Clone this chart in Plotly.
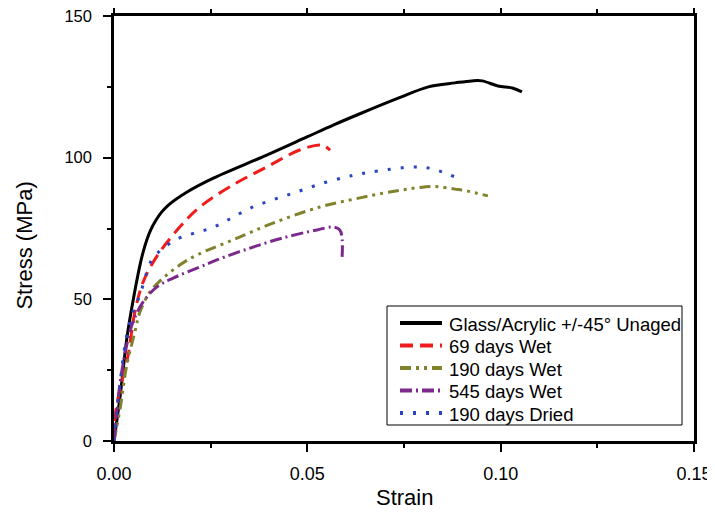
import plotly.graph_objects as go

# ---- data ----
unaged_x = [0, 0.0016, 0.0033, 0.0046, 0.0067, 0.0075, 0.0085, 0.0095, 0.0108, 0.0122, 0.0140, 0.0189, 0.0257, 0.0395, 0.0499, 0.0567, 0.0636, 0.0735, 0.0813, 0.0882, 0.0925, 0.0952, 0.0993, 0.103, 0.1055]
unaged_y = [0, 16, 36, 47, 62, 66.5, 71, 74.5, 77.8, 80.6, 83.2, 87.9, 92.8, 100.9, 107.3, 111.5, 115.5, 121, 125, 126.4, 127.1, 127.1, 125.3, 124.6, 123.2]

wet69_x = [0, 0.0003, 0.0016, 0.0036, 0.0054, 0.0075, 0.011, 0.017, 0.0222, 0.0308, 0.0395, 0.048, 0.0533, 0.0546, 0.0559]
wet69_y = [0, 9, 18.7, 30, 45.5, 56, 65, 75.5, 82.6, 90.4, 96.7, 102.7, 104.5, 104, 102.7]

wet190_x = [0, 0.0003, 0.0016, 0.0033, 0.0054, 0.0067, 0.0093, 0.0127, 0.017, 0.0215, 0.0308, 0.0411, 0.0533, 0.0636, 0.0700, 0.0745, 0.0786, 0.083, 0.0882, 0.0915, 0.0967]
wet190_y = [0, 2, 11.6, 26.8, 38.5, 45.5, 52.6, 57.5, 62.1, 65.7, 71, 76.9, 82.6, 85.8, 87.6, 88.6, 89.4, 89.8, 88.9, 88.2, 86.5]

wet545_x = [0, 0.0016, 0.0033, 0.0049, 0.0075, 0.0111, 0.0153, 0.0222, 0.0266, 0.0352, 0.0437, 0.0525, 0.0566, 0.0584, 0.059, 0.059]
wet545_y = [0, 20.8, 33.9, 42, 49, 54.4, 57.5, 61.4, 63.9, 68.1, 71.7, 74.5, 75.5, 74.5, 71, 65]

dried190_x = [0, 0.0016, 0.0033, 0.0049, 0.0067, 0.0085, 0.0101, 0.016, 0.0257, 0.036, 0.0464, 0.055, 0.0623, 0.0683, 0.077, 0.0812, 0.0848, 0.0882]
dried190_y = [0, 20.8, 37.4, 45.5, 51.5, 59.6, 64.6, 71, 75.5, 82.6, 87.5, 91.4, 93.9, 95.3, 96.7, 96.4, 95, 93.2]

names = ["Glass/Acrylic +/-45° Unaged", "69 days Wet", "190 days Wet", "545 days Wet", "190 days Dried"]

x_tickvals = [0, 0.05, 0.10, 0.15]
x_ticktext = ["0.00", "0.05", "0.10", "0.15"]
y_tickvals = [0, 50, 100, 150]

FONT = "Liberation Sans, Arial, sans-serif"

# figure geometry (the page body adds an 8px offset)
W, H = 707, 507
ML, MR, MT, MB = 106, 21, 8, 74
PW, PH = W - ML - MR, H - MT - MB


def px_x(px):  # screen px -> paper x
    return (px - 8 - ML) / PW


def px_y(py):  # screen px -> paper y
    return 1 - (py - 8 - MT) / PH


fig = go.Figure()
series = [
    (unaged_x, unaged_y, names[0], "black", "solid"),
    (wet69_x, wet69_y, names[1], "#f01c1c", "13px,7px"),
    (wet190_x, wet190_y, names[2], "#80822c", "11px,5px,3px,5px,3px,5px"),
    (wet545_x, wet545_y, names[3], "#7b2a8c", "12px,4px,2px,4px"),
    (dried190_x, dried190_y, names[4], "#2a44c4", "3px,10px"),
]
for x, y, n, c, d in series:
    fig.add_trace(go.Scatter(x=x, y=y, name=n, mode="lines", showlegend=False,
                             line=dict(color=c, width=3, dash=d, shape="spline", smoothing=1.0)))

axis_common = dict(showgrid=False, zeroline=False, showline=True, linecolor="black", linewidth=2.5,
                   ticks="outside", ticklen=8, tickwidth=2, tickcolor="black", automargin=False,
                   ticklabeloverflow="allow")

fig.update_xaxes(range=[0, 0.15], tickvals=x_tickvals, ticktext=x_ticktext,
                 mirror="ticks", ticklabelstandoff=7,
                 tickfont=dict(family=FONT, size=18, color="black"),
                 minor=dict(tickvals=[0.025, 0.075, 0.125], ticks="outside", ticklen=4, tickwidth=2, tickcolor="black"),
                 **axis_common)
fig.update_yaxes(range=[0, 150], tickvals=y_tickvals, mirror=True, ticklabelstandoff=8,
                 tickfont=dict(family=FONT, size=16.5, color="black"),
                 minor=dict(tickvals=[25, 75, 125], ticks="outside", ticklen=4, tickwidth=2, tickcolor="black"),
                 **axis_common)

fig.add_annotation(text="Strain", xref="paper", yref="paper", x=0.5, y=-0.134, yanchor="middle",
                   showarrow=False, font=dict(family=FONT, size=22, color="black"))
fig.add_annotation(text="Stress (MPa)", xref="paper", yref="paper", x=-0.155, y=0.46, textangle=-90,
                   xanchor="center", yanchor="middle",
                   showarrow=False, font=dict(family=FONT, size=22, color="black"))

# legend box drawn with shapes + annotations (to match the reference's sample length and spacing)
fig.add_shape(type="rect", xref="paper", yref="paper",
              x0=px_x(387), x1=px_x(682), y0=px_y(306), y1=px_y(425),
              line=dict(color="black", width=1), fillcolor="white", layer="above")
row_y = [323, 345.5, 368, 390.5, 413]
for (x, y, n, c, d), ry in zip(series, row_y):
    fig.add_shape(type="line", xref="paper", yref="paper",
                  x0=px_x(400), x1=px_x(442), y0=px_y(ry), y1=px_y(ry),
                  line=dict(color=c, width=4, dash=d), layer="above")
    fig.add_annotation(text=n, xref="paper", yref="paper", x=px_x(447), y=px_y(ry + 1),
                       xanchor="left", yanchor="middle", showarrow=False,
                       font=dict(family=FONT, size=18.5, color="black"))

fig.update_layout(
    width=W, height=H,
    margin=dict(l=ML, r=MR, t=MT, b=MB, autoexpand=False),
    plot_bgcolor="white", paper_bgcolor="white",
    showlegend=False,
)

fig.write_html("out.html")
